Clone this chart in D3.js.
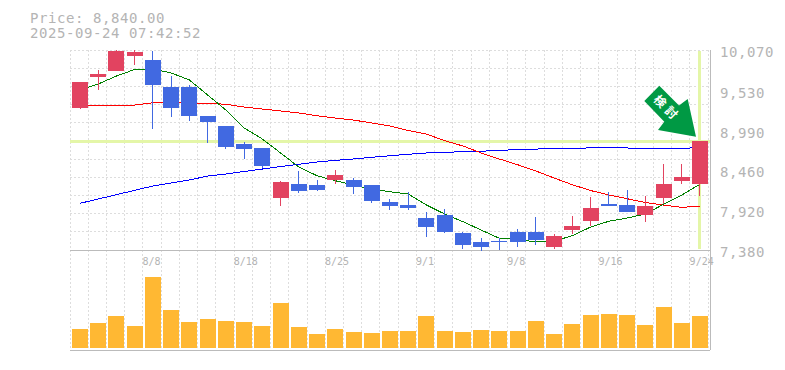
<!DOCTYPE html>
<html><head><meta charset="utf-8">
<script src="https://cdn.jsdelivr.net/npm/d3@7"></script>
<style>
html,body{margin:0;padding:0;background:#fff}
svg{display:block}
text{font-family:"DejaVu Sans Mono",monospace;fill:#b4b4b4}
</style></head><body><div id="c"></div>
<script>
const dates=["8/4","8/5","8/6","8/7","8/8","8/12","8/13","8/14","8/15","8/18","8/19","8/20","8/21","8/22","8/25","8/26","8/27","8/28","8/29","9/1","9/2","9/3","9/4","9/5","9/8","9/9","9/10","9/11","9/12","9/16","9/17","9/18","9/19","9/22","9/24"];
const dateTicks=["8/8","8/18","8/25","9/1","9/8","9/16","9/24"];
const priceTicks=[10070,9530,8990,8460,7920,7380];
const openP=[9290,9710,9790,9990,9940,9570,9570,9180,9050,8810,8750,8080,8270,8250,8320,8320,8250,8030,7990,7810,7850,7610,7490,7500,7620,7620,7420,7650,7770,8000,7990,7850,8080,8310,8270];
const closeP=[9640,9750,10060,10040,9600,9290,9180,9100,8760,8740,8510,8300,8170,8190,8390,8230,8040,7970,7940,7690,7620,7450,7420,7490,7490,7520,7570,7700,7940,7970,7890,7970,8270,8360,8840];
const highP=[9640,9800,10070,10070,10060,9720,9600,9180,9050,8830,8750,8310,8440,8320,8460,8350,8250,8070,8160,7890,7930,7620,7540,7540,7660,7820,7600,7840,8090,8160,8190,8110,8540,8540,8840];
const lowP=[9270,9530,9790,9870,9010,9170,9120,8820,8740,8600,8480,7970,8150,8170,8270,8130,8010,7920,7920,7560,7610,7390,7370,7380,7420,7450,7390,7600,7700,8000,7890,7760,8000,8270,8110];
const maShort=[9532,9613,9720,9808,9814,9761,9667,9465,9263,9021,8873,8685,8496,8379,8312,8254,8196,8164,8133,7985,7864,7761,7649,7537,7524,7488,7501,7572,7689,7766,7810,7864,7995,8120,8264];
const maMid=[9317,9317,9321,9330,9361,9367,9357,9353,9340,9303,9276,9250,9223,9186,9155,9128,9088,9048,8987,8940,8850,8779,8685,8604,8527,8443,8348,8258,8180,8120,8070,8019,7985,7954,7968];
const maLong=[8008,8066,8124,8183,8241,8281,8322,8375,8402,8436,8469,8503,8533,8564,8586,8604,8627,8648,8667,8685,8694,8702,8709,8718,8732,8738,8742,8748,8753,8756,8752,8748,8748,8748,8756];
const volumes=[19,25,32,22,71,38,26,29,27,26,22,45,21,14,19,16,15,17,17,32,17,16,18,17,17,27,14,24,33,34,33,23,41,25,32];
const lastPrice=8840;
const titleLines=["Price: 8,840.00","2025-09-24 07:42:52"];
const badgeText="検討";

const W=785,H=370,L=70,R=710,T=50,MB=250,VB=350;
const RED="#e24360",BLUE="#4169e1",GRID="#ddd",FRAME="#bbb",HI="#e4f6a8";
const svg=d3.select("#c").append("svg").attr("width",W).attr("height",H);
const x=d3.scaleBand().domain(dates).range([L,L+18.235*dates.length]).padding(0);
const y=d3.scaleLinear().domain([7380,10070]).range([MB,T]);
const v=d3.scaleLinear().domain([0,100]).range([VB-2,VB-102]);
const cx=d=>x(d)+10;

// grid
const crisp=s=>s.attr("shape-rendering","crispEdges");
const gv=[...dates.map(d=>Math.floor(x(d))),Math.floor(L+18.235*dates.length)];
const gh=d3.range(12).map(i=>Math.floor(T+200/11*i));
svg.append("g").selectAll("line").data(gv).join("line").call(crisp)
 .attr("x1",d=>d+.5).attr("x2",d=>d+.5).attr("y1",T).attr("y2",VB)
 .attr("stroke",GRID).attr("stroke-dasharray","2,2");
svg.append("g").selectAll("line").data(gh).join("line").call(crisp)
 .attr("y1",d=>d+.5).attr("y2",d=>d+.5).attr("x1",L).attr("x2",R)
 .attr("stroke",GRID).attr("stroke-dasharray","2,2");

// crosshair highlight
svg.append("rect").call(crisp).attr("x",L).attr("width",R-L).attr("y",Math.round(y(lastPrice))-1).attr("height",3).attr("fill",HI);
svg.append("rect").call(crisp).attr("x",Math.floor(cx(dates[34]))-1).attr("width",3).attr("y",T+1).attr("height",MB-T-2).attr("fill",HI);

// frame
[[L,MB,R,MB],[L,VB,R,VB],[R,T,R,VB]].forEach(a=>svg.append("line").call(crisp)
 .attr("x1",a[0]+(a[0]==a[2]?.5:0)).attr("x2",a[2]+(a[0]==a[2]?.5:0))
 .attr("y1",a[1]+(a[1]==a[3]?.5:0)).attr("y2",a[3]+(a[1]==a[3]?.5:0))
 .attr("stroke",FRAME));

// moving averages
const line=d3.line().x((d,i)=>cx(dates[i])).y(d=>y(d));
[[maLong,"#0000ff"],[maMid,"#ff0000"],[maShort,"#008000"]].forEach(([s,c])=>
 svg.append("path").attr("d",line(s)).attr("fill","none").attr("stroke",c).attr("stroke-width",1).attr("shape-rendering","crispEdges"));

// candles
const idx=d3.range(dates.length);
const colr=i=>closeP[i]>=openP[i]?RED:BLUE;
svg.append("g").selectAll("rect").data(idx).join("rect").call(crisp)
 .attr("x",i=>Math.floor(cx(dates[i]))).attr("width",1)
 .attr("y",i=>Math.round(y(highP[i]))).attr("height",i=>Math.round(y(lowP[i]))-Math.round(y(highP[i])))
 .attr("fill",colr);
svg.append("g").selectAll("rect").data(idx).join("rect").call(crisp)
 .attr("x",i=>Math.round(x(dates[i])+2)).attr("width",16)
 .attr("y",i=>Math.round(y(Math.max(openP[i],closeP[i]))))
 .attr("height",i=>Math.max(1,Math.round(y(Math.min(openP[i],closeP[i])))-Math.round(y(Math.max(openP[i],closeP[i])))))
 .attr("fill",colr);

// volume
svg.append("g").selectAll("rect").data(idx).join("rect").call(crisp)
 .attr("x",i=>Math.round(x(dates[i])+2)).attr("width",16)
 .attr("y",i=>v(volumes[i])).attr("height",i=>v(0)-v(volumes[i]))
 .attr("fill","#ffb833");

// axes
const ay=svg.append("g").attr("transform",`translate(${R},0)`)
 .call(d3.axisRight(y).tickValues(priceTicks).tickFormat(d3.format(",")).tickSize(0).tickPadding(10));
ay.select(".domain").remove();
ay.selectAll("text").attr("font-size",14).attr("letter-spacing",.57).attr("font-family",null).attr("dy","0.32em").attr("transform","translate(0,-2.5)").attr("y",5);
const ax=svg.append("g").attr("transform",`translate(0,${MB})`)
 .call(d3.axisBottom(x).tickValues(dateTicks).tickSize(0).tickPadding(0));
ax.select(".domain").remove();
ax.selectAll("text").attr("font-size",10).attr("font-family",null).attr("text-anchor","start").attr("x",-9.5).attr("y",8).attr("dy","0.71em");

// title
svg.append("g").selectAll("text").data(titleLines).join("text")
 .attr("x",30).attr("y",(d,i)=>23+15*i).attr("font-size",14).attr("letter-spacing",.57).text(d=>d);

// badge
svg.append("path").attr("fill","#009944")
 .attr("d","M644.3,101L659.3,85.7L679,105.5L687.7,99L696,136.7L658,130L664.3,121.7Z");
svg.append("text").attr("transform","translate(667,108.5) rotate(45)")
 .attr("text-anchor","middle").attr("dy","0.36em").attr("font-size",12).attr("font-weight","bold").attr("letter-spacing",4)
 .style("fill","#fff").style("font-family",'"Noto Sans CJK JP"').text(badgeText);
</script></body></html>
